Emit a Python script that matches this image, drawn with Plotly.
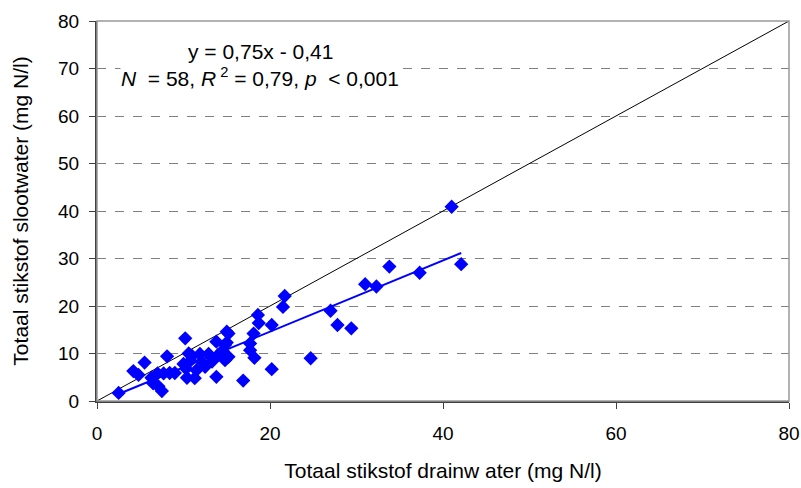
import plotly.graph_objects as go

# Data
drain_n = [2.5, 4.2, 4.8, 5.5, 6.3, 6.5, 7.1, 7.5, 7.0, 7.7, 8.4, 8.1, 10.2, 10.6, 10.0,
           10.3, 10.4, 11.3, 11.5, 11.9, 12.1, 12.9, 13.3, 13.8, 13.8, 14.8, 15.0, 15.2,
           14.8, 15.2, 14.5, 16.9, 17.7, 17.7, 18.1, 18.2, 18.7, 18.6, 20.2, 20.2, 21.5,
           21.7, 24.7, 27.0, 27.8, 29.4, 31.0, 32.3, 33.8, 37.3, 41.0, 42.1, 9.0, 11.0,
           12.5, 14.0, 15.0, 10.8]
sloot_n = [1.7, 6.3, 5.5, 8.1, 4.9, 3.7, 3.1, 2.1, 5.8, 5.8, 5.9, 9.4, 13.2, 10.0, 7.8,
           6.8, 4.9, 4.8, 6.5, 9.9, 8.3, 9.9, 8.3, 12.5, 5.1, 11.8, 14.6, 9.3,
           8.6, 14.2, 10.6, 4.3, 10.7, 12.1, 14.2, 9.1, 16.4, 18.1, 16.0, 6.7, 19.8,
           22.1, 9.0, 19.0, 16.0, 15.3, 24.6, 24.1, 28.3, 27.0, 40.9, 28.8, 5.9, 9.5,
           7.2, 9.7, 12.3, 8.5]

fit_slope = 0.75
fit_intercept = -0.41
one_to_one = [0, 80]
axis_ticks = [0, 20, 40, 60, 80]
y_ticks = [0, 10, 20, 30, 40, 50, 60, 70, 80]

xmin, xmax = min(drain_n), max(drain_n)
fit_x = [xmin, xmax]
fit_y = [fit_slope * v + fit_intercept for v in fit_x]

font = "Liberation Sans, Arial, sans-serif"

fig = go.Figure()
fig.add_trace(go.Scatter(x=one_to_one, y=one_to_one, mode="lines",
                         line=dict(color="black", width=1), hoverinfo="skip",
                         showlegend=False))
fig.add_trace(go.Scatter(x=drain_n, y=sloot_n, mode="markers",
                         marker=dict(symbol="diamond", size=11, color="#0000FF",
                                     line=dict(width=0)),
                         showlegend=False))
fig.add_trace(go.Scatter(x=fit_x, y=fit_y, mode="lines",
                         line=dict(color="#0000FF", width=2), showlegend=False))

fig.add_annotation(x=18.9, y=73.5, xref="x", yref="y",
                   text="y = 0,75x - 0,41",
                   showarrow=False, font=dict(family=font, size=21, color="black"),
                   align="center")
fig.add_annotation(x=18.9, y=68.2, xref="x", yref="y",
                   text="<i>N</i>  = 58, <i>R</i><sup> 2</sup> = 0,79, <i>p</i>  < 0,001",
                   showarrow=False, font=dict(family=font, size=21, color="black"),
                   align="center", bgcolor="white", borderpad=0)

# gray top/right border
fig.add_shape(type="rect", xref="paper", yref="paper", x0=0, x1=1, y0=0, y1=1,
              line=dict(color="#999999", width=1.5), layer="above")

fig.update_xaxes(range=[0, 80], tickvals=axis_ticks, showgrid=False, zeroline=False,
                 showline=True, linecolor="#404040", linewidth=2, automargin=False,
                 ticks="outside", ticklen=6, tickcolor="#404040", tickwidth=1,
                 ticklabelstandoff=8,
                 tickfont=dict(family=font, size=19, color="black"),
                 title=dict(text="Totaal stikstof drainw ater (mg N/l)",
                            font=dict(family=font, size=21, color="black"), standoff=21))
fig.update_yaxes(range=[0, 80], tickvals=y_ticks, showgrid=True, gridcolor="#808080",
                 griddash="dash", gridwidth=1, zeroline=False, automargin=False,
                 showline=True, linecolor="#404040", linewidth=2,
                 ticks="outside", ticklen=6, tickcolor="#404040", tickwidth=1,
                 ticklabelstandoff=6,
                 tickfont=dict(family=font, size=19, color="black"),
                 title=dict(text="Totaal stikstof slootwater (mg N/l)",
                            font=dict(family=font, size=21, color="black"), standoff=24))

fig.update_layout(width=801, height=488, margin=dict(l=97, r=12, t=21, b=87),
                  plot_bgcolor="white", paper_bgcolor="white",
                  font=dict(family=font, color="black"))

fig.write_html("out.html")
